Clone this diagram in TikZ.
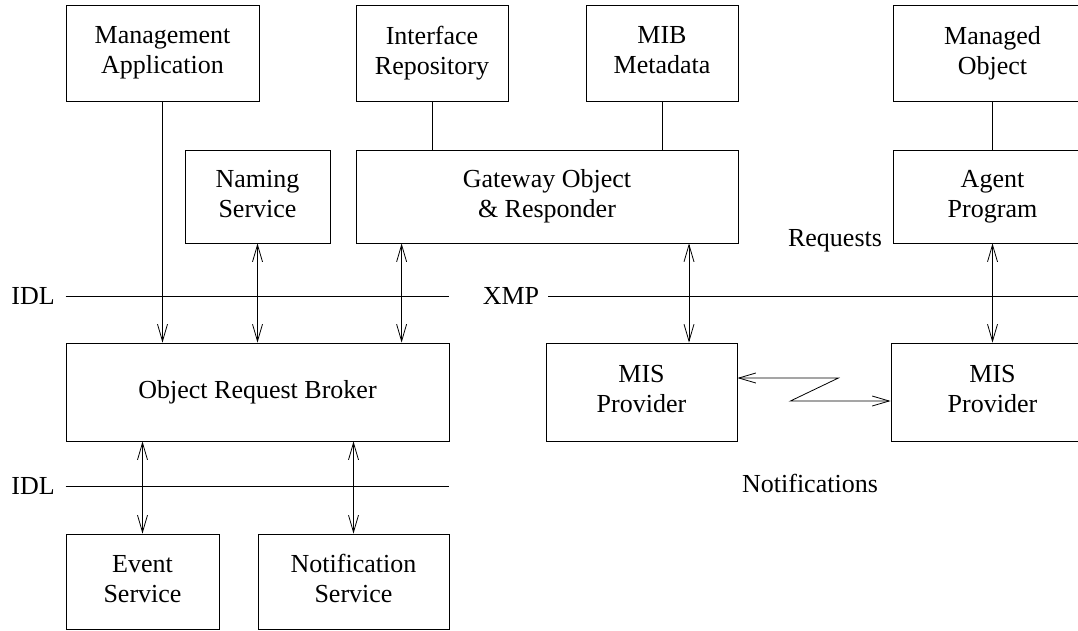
\documentclass[tikz,border=0pt]{standalone}
\usepackage{fontspec}
\setmainfont{Liberation Serif}
\usetikzlibrary{arrows.meta}

\newcommand\topstrut{\rule{0pt}{27pt}}
\newcommand\botstrut{\rule[-6pt]{0pt}{6pt}}

\begin{document}
\begin{tikzpicture}[x=1pt, y=-1pt,
  line width=0.8pt,
  >={Straight Barb[length=17pt,width=10pt]},
  box/.style={draw, rectangle, align=center, inner sep=0pt},
  twoline/.style={box,
    execute at begin node={\topstrut}, execute at end node={\botstrut}},
  lbl/.style={inner sep=0pt}]

  \fontsize{26}{30}\selectfont

  \useasboundingbox (0,0) rectangle (1078,630);

  % top row
  \node[twoline, minimum width=193pt, minimum height=96pt] (mgmt)   at (162.5,53) {Management\\Application};
  \node[twoline, minimum width=152pt, minimum height=96pt] (ifrep)  at (432,53)   {Interface\\Repository};
  \node[twoline, minimum width=152pt, minimum height=96pt] (mib)    at (662,53)   {MIB\\Metadata};
  \node[twoline, minimum width=199pt, minimum height=96pt] (mobj)   at (992.5,53) {Managed\\Object};

  % second row
  \node[twoline, minimum width=145pt, minimum height=93pt] (naming)  at (257.5,196.5) {Naming\\Service};
  \node[twoline, minimum width=382pt, minimum height=93pt] (gateway) at (547,196.5)   {Gateway Object\\\& Responder};
  \node[twoline, minimum width=199pt, minimum height=93pt] (agent)   at (992.5,196.5) {Agent\\Program};

  % brokers and providers
  \node[box, minimum width=383pt, minimum height=98pt] (orb)  at (257.5,392) {Object Request Broker};
  \node[twoline, minimum width=191pt, minimum height=98pt] (mis1) at (641.5,392) {MIS\\Provider};
  \node[twoline, minimum width=203pt, minimum height=98pt] (mis2) at (992.5,392) {MIS\\Provider};

  % services
  \node[twoline, minimum width=153pt, minimum height=95pt] (event) at (142.5,581.5) {Event\\Service};
  \node[twoline, minimum width=191pt, minimum height=95pt] (notif) at (353.5,581.5) {Notification\\Service};

  % labels
  \node[lbl] (idla) at (33,296)  {IDL};
  \node[lbl] (xmp)  at (511,296) {XMP};
  \node[lbl] (idlb) at (33,486)  {IDL};
  \node[lbl] (req)  at (835,241) {Requests};
  \node[lbl] (ntf)  at (810,483) {Notifications};

  \coordinate (idlaR) at (449,296);
  \coordinate (xmpR)  at (1090,296);
  \coordinate (idlbR) at (449,486);

  % interface lines
  \draw (idla.center -| orb.west) -- (idlaR);        % IDL
  \draw ([xshift=37pt]xmp.center) -- (xmpR);         % XMP
  \draw (idlb.center -| orb.west) -- (idlbR);        % IDL

  % plain links
  \draw (ifrep.south) -- (ifrep.south |- gateway.north);
  \draw (mib.south) -- (mib.south |- gateway.north);
  \draw (mobj.south) -- (agent.north);

  % calls through the broker
  \draw[->] (mgmt.south) -- (mgmt.south |- orb.north);            %% mgmt->orb
  \draw[<->] (naming.south) -- (naming.south |- orb.north);       %% naming<->orb
  \draw[<->] ([xshift=46pt]gateway.south west)
    -- ([xshift=46pt]gateway.south west |- orb.north);            %% gateway<->orb
  \draw[<->] ([xshift=47.5pt]mis1.north |- gateway.south)
    -- ([xshift=47.5pt]mis1.north);                               %% gateway<->mis1
  \draw[<->] (agent.south) -- (mis2.north);                       %% agent<->mis2
  \draw[<->] (event.north |- orb.south) -- (event.north);         %% orb<->event
  \draw[<->] (notif.north |- orb.south) -- (notif.north);         %% orb<->notif

  % provider to provider
  \draw[<->] ([yshift=14pt]mis1.east) -- ++(101,0) -- ++(-48,23)
    -- ([yshift=-9pt]mis2.west);
\end{tikzpicture}
\end{document}
